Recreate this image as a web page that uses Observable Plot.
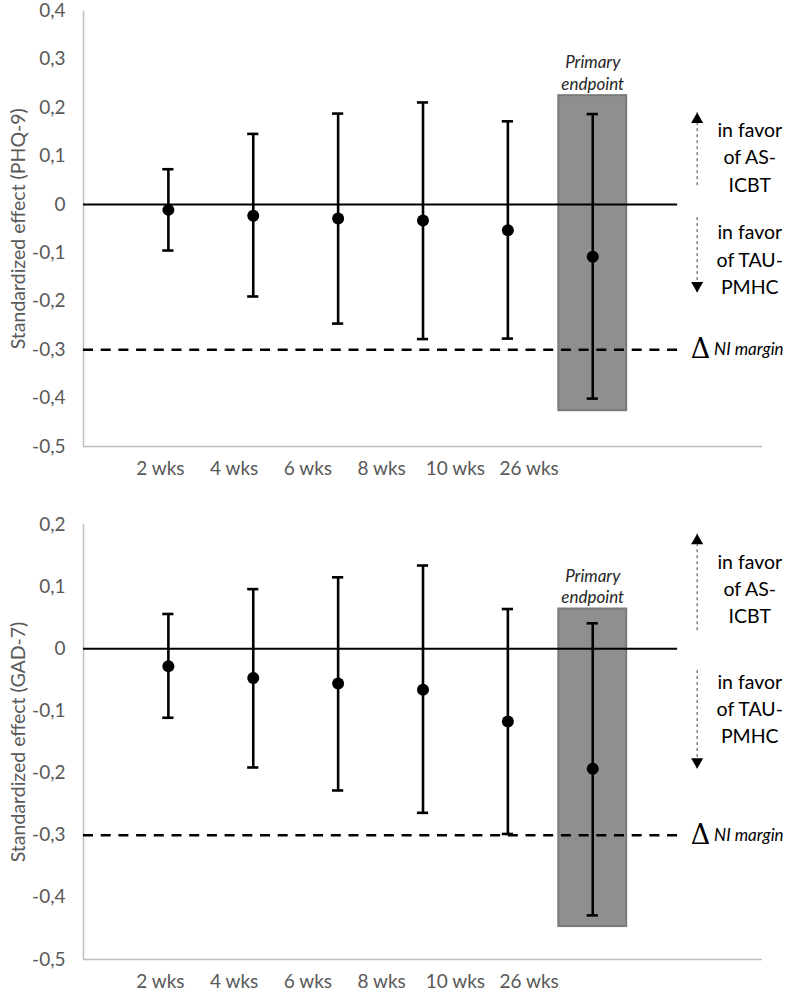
<!DOCTYPE html>
<html>
<head>
<meta charset="utf-8">
<script src="https://cdn.jsdelivr.net/npm/d3@7"></script>
<script src="https://cdn.jsdelivr.net/npm/@observablehq/plot@0.6"></script>
<style>
  html, body { margin: 0; padding: 0; background: #fff; }
  #chart { width: 789px; }
  #chart svg { display: block; overflow: visible; }
</style>
</head>
<body>
<div id="chart"></div>
<script>
// ---- data ----
const weeks = ["2 wks", "4 wks", "6 wks", "8 wks", "10 wks", "26 wks"];

const phqEst  = [-0.011, -0.023, -0.029, -0.033, -0.053, -0.108];
const phqLow  = [-0.095, -0.190, -0.246, -0.278, -0.277, -0.401];
const phqHigh = [ 0.073,  0.146,  0.188,  0.211,  0.172,  0.187];

const gadEst  = [-0.028, -0.047, -0.056, -0.066, -0.117, -0.193];
const gadLow  = [-0.111, -0.191, -0.228, -0.264, -0.298, -0.429];
const gadHigh = [ 0.056,  0.096,  0.115,  0.134,  0.064,  0.041];

const niMargin = -0.3;
const phqBand = [0.225, -0.426];   // primary endpoint box (top, bottom)
const gadBand = [0.064, -0.447];

const phqTicks = [0.4, 0.3, 0.2, 0.1, 0, -0.1, -0.2, -0.3, -0.4, -0.5];
const gadTicks = [0.2, 0.1, 0, -0.1, -0.2, -0.3, -0.4, -0.5];

const favorAS  = "in favor\nof AS-\nICBT";
const favorTAU = "in favor\nof TAU-\nPMHC";
const primaryLabel = "Primary\nendpoint";

// ---- layout helpers ----
const FONT = "Lato, 'Open Sans', sans-serif";
const GRAY_TEXT = "#595959";
const AXIS_GRAY = "#bfbfbf";
const labelStart = 0.906, labelStep = 0.869; // category label slots (x units)
const fmt = d => d === 0 ? "0" : d.toFixed(1).replace(".", ",");

function panel(cfg) {
  const rows = weeks.map((w, i) => ({ week: w, pos: i + 1, est: cfg.est[i], low: cfg.low[i], high: cfg.high[i] }));
  const primaryPos = weeks.length;
  const labels = weeks.map((w, i) => ({ label: w, x: labelStart + i * labelStep }));
  const capHalf = 0.066;
  return Plot.plot({
    width: 789,
    height: cfg.height,
    marginLeft: 83,
    marginRight: 27,
    marginTop: cfg.marginTop,
    marginBottom: cfg.marginBottom,
    style: { fontFamily: FONT, background: "#fff", overflow: "visible" },
    x: { domain: [0, 8], axis: null },
    y: { domain: cfg.domain, axis: null },
    marks: [
      // axes lines
      Plot.ruleX([0], { stroke: AXIS_GRAY, strokeWidth: 1.5 }),
      Plot.ruleY([cfg.domain[0]], { stroke: AXIS_GRAY, strokeWidth: 1.5 }),
      // y tick labels
      Plot.text(cfg.ticks, { x: 0, y: d => d, text: fmt, textAnchor: "end", dx: -18, fontSize: 19, fill: GRAY_TEXT }),
      // y axis title
      Plot.text([cfg.title], { frameAnchor: "left", dx: -65, rotate: -90, textAnchor: "middle", fontSize: 19.5, fill: GRAY_TEXT }),
      // x labels
      Plot.text(labels, { x: "x", text: "label", frameAnchor: "bottom", dy: 28.5, fontSize: 19, fill: GRAY_TEXT }),
      // primary endpoint box
      Plot.rect([cfg.band], { x1: primaryPos - 0.4, x2: primaryPos + 0.4, y1: d => d[0], y2: d => d[1], fill: "#8f8f8f", stroke: "#7a7a7a", strokeWidth: 2 }),
      Plot.text([primaryLabel], { x: primaryPos, y: cfg.band[0], lineAnchor: "bottom", dy: -6, fontSize: 17, fontStyle: "italic", lineHeight: 1.25, fill: "#262626" }),
      // reference lines
      Plot.ruleY([0], { x1: 0, x2: 7, stroke: "#000", strokeWidth: 2 }),
      Plot.ruleY([niMargin], { x1: 0, x2: 7, stroke: "#000", strokeWidth: 2.5, strokeDasharray: "10,7.7" }),
      // error bars
      Plot.ruleX(rows, { x: "pos", y1: "low", y2: "high", stroke: "#000", strokeWidth: 2.6 }),
      Plot.ruleY(rows, { y: "low", x1: d => d.pos - capHalf, x2: d => d.pos + capHalf, stroke: "#000", strokeWidth: 2.6 }),
      Plot.ruleY(rows, { y: "high", x1: d => d.pos - capHalf, x2: d => d.pos + capHalf, stroke: "#000", strokeWidth: 2.6 }),
      Plot.dot(rows, { x: "pos", y: "est", r: 6, fill: "#000" }),
      // direction arrows
      Plot.ruleX(cfg.arrows, { x: 7.23, y1: "from", y2: "to", stroke: "#444", strokeWidth: 1, strokeDasharray: "3,3" }),
      Plot.dot(cfg.arrows.filter(a => a.to > a.from), { x: 7.23, y: "to", symbol: "triangle", r: 4.5, fill: "#000", dy: 7 }),
      Plot.dot(cfg.arrows.filter(a => a.to < a.from), { x: 7.23, y: "to", symbol: "triangle", r: 4.5, fill: "#000", dy: -7, rotate: 180 }),
      Plot.text([favorAS], { x: 7.85, y: cfg.asY, fontSize: 19.5, lineHeight: 1.4, fill: "#000" }),
      Plot.text([favorTAU], { x: 7.85, y: cfg.tauY, fontSize: 19.5, lineHeight: 1.4, fill: "#000" }),
      // NI margin label
      Plot.text(["\u0394"], { x: 7.27, y: niMargin, fontSize: 27, fill: "#000", fontFamily: "'DejaVu Serif', serif" }),
      Plot.text(["NI margin"], { x: 7.43, y: niMargin, textAnchor: "start", fontSize: 17, fontStyle: "italic", fill: "#000" })
    ]
  });
}

const chart = document.getElementById("chart");
chart.appendChild(panel({
  height: 490, marginTop: 10.5, marginBottom: 44,
  domain: [-0.5, 0.4], ticks: phqTicks,
  est: phqEst, low: phqLow, high: phqHigh, band: phqBand,
  title: "Standardized effect (PHQ-9)",
  arrows: [{ from: 0.039, to: 0.19 }, { from: -0.027, to: -0.182 }],
  asY: 0.101, tauY: -0.110
}));
chart.appendChild(panel({
  height: 510, marginTop: 34, marginBottom: 41,
  domain: [-0.5, 0.2], ticks: gadTicks,
  est: gadEst, low: gadLow, high: gadHigh, band: gadBand,
  title: "Standardized effect (GAD-7)",
  arrows: [{ from: 0.029, to: 0.185 }, { from: -0.035, to: -0.193 }],
  asY: 0.099, tauY: -0.094
}));
</script>
</body>
</html>
